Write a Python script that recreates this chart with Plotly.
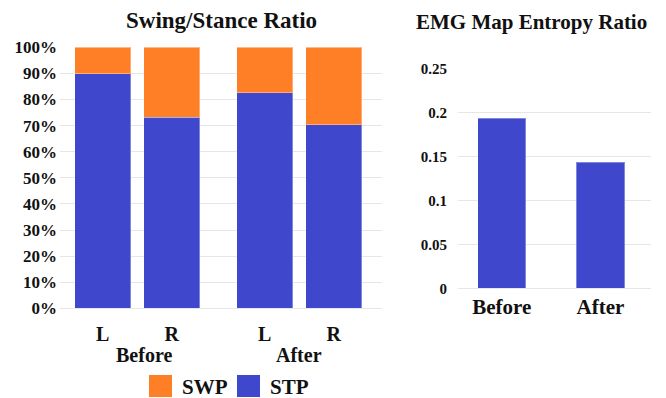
import plotly.graph_objects as go

# Swing/stance split per leg, before and after
groups = ["Before", "After"]
sides = ["L", "R"]
stp = [0.898, 0.732, 0.825, 0.703]   # stance phase share
swp = [0.102, 0.268, 0.175, 0.297]   # swing phase share

# EMG map entropy ratio
entropy_labels = ["Before", "After"]
entropy_ratio = [0.193, 0.143]

BLUE = "#3F48CC"
ORANGE = "#FF7F27"
FONT = "Liberation Serif"
INK = "#111111"
GRID = "#e6e6e6"
EDGE = "rgba(255,255,255,0.35)"

# leave a wider gap between the Before and After pairs
GROUP_STEP = 2.35
xpos = [g * GROUP_STEP + s for g in range(len(groups)) for s in range(len(sides))]
xtext = [s for g in groups for s in sides]
group_centers = [g * GROUP_STEP + (len(sides) - 1) / 2 + 0.1 * (g == 0) for g in range(len(groups))]

fig = go.Figure()
fig.add_trace(go.Bar(x=xpos, y=stp, name="STP", width=0.81,
                     marker=dict(color=BLUE, line=dict(color=EDGE, width=1)),
                     xaxis="x", yaxis="y", showlegend=False))
fig.add_trace(go.Bar(x=xpos, y=swp, name="SWP", width=0.81,
                     marker=dict(color=ORANGE, line=dict(color=EDGE, width=1)),
                     xaxis="x", yaxis="y", showlegend=False))
fig.add_trace(go.Bar(x=entropy_labels, y=entropy_ratio, name="Entropy", width=0.486,
                     marker=dict(color=BLUE, line=dict(color=EDGE, width=1)),
                     xaxis="x2", yaxis="y2", showlegend=False))

bold = dict(family=FONT, color=INK, weight="bold")

annotations = [
    dict(text="Swing/Stance Ratio", x=221 / 666, y=1 - 20 / 398, xref="paper", yref="paper",
         showarrow=False, font=dict(bold, size=23), xanchor="center", yanchor="middle"),
    dict(text="EMG Map Entropy Ratio", x=531 / 666, y=1 - 22 / 398, xref="paper", yref="paper",
         showarrow=False, font=dict(bold, size=21), xanchor="center", yanchor="middle"),
]
for name, cx in zip(groups, group_centers):
    annotations.append(dict(text=name, x=cx, y=1 - 355 / 398, xref="x", yref="paper",
                            showarrow=False, font=dict(bold, size=20),
                            xanchor="center", yanchor="middle"))

# legend: swatch + label for each series
legend_items = [("SWP", ORANGE, 149), ("STP", BLUE, 237)]
shapes = []
for label, color, x0 in legend_items:
    shapes.append(dict(type="rect", xref="paper", yref="paper",
                       x0=x0 / 666, x1=(x0 + 23) / 666,
                       y0=1 - 397 / 398, y1=1 - 375 / 398,
                       fillcolor=color, line=dict(width=0)))
    annotations.append(dict(text=label, x=(x0 + 31) / 666, y=1 - 386.5 / 398,
                            xref="paper", yref="paper", showarrow=False,
                            font=dict(bold, size=21), xanchor="left", yanchor="middle"))

fig.update_layout(
    template="none",
    width=666, height=398,
    autosize=False,
    margin=dict(l=0, r=0, t=0, b=0, pad=0),
    paper_bgcolor="white", plot_bgcolor="white",
    barmode="stack",
    showlegend=False,
    xaxis=dict(domain=[60 / 666, 382 / 666], range=[-0.62, 4.05], automargin=False,
               tickmode="array", tickvals=xpos, ticktext=xtext,
               showgrid=False, zeroline=False, showline=False, ticks="",
               tickfont=dict(bold, size=20), ticklabelstandoff=12, anchor="y"),
    yaxis=dict(domain=[1 - 308.3 / 398, 1 - 47.3 / 398], range=[0, 1], automargin=False,
               dtick=0.1, tickformat=".0%", showgrid=True, gridcolor=GRID, gridwidth=1,
               zeroline=True, zerolinecolor=GRID, zerolinewidth=1, showline=False,
               ticks="", tickfont=dict(bold, size=17), ticklabelstandoff=2, anchor="x"),
    xaxis2=dict(domain=[458 / 666, 651 / 666], range=[-0.442, 1.511], automargin=False,
                type="category", showgrid=False, zeroline=False, showline=False, ticks="",
                tickfont=dict(bold, size=21), ticklabelstandoff=4, anchor="y2"),
    yaxis2=dict(domain=[1 - 288.3 / 398, 1 - 68.3 / 398], range=[0, 0.25], automargin=False,
                dtick=0.05, showgrid=True, gridcolor=GRID, gridwidth=1,
                zeroline=True, zerolinecolor=GRID, zerolinewidth=1, showline=False,
                ticks="", tickfont=dict(bold, size=15), ticklabelstandoff=10, anchor="x2"),
    annotations=annotations,
    shapes=shapes,
)

fig.write_html("out.html")
